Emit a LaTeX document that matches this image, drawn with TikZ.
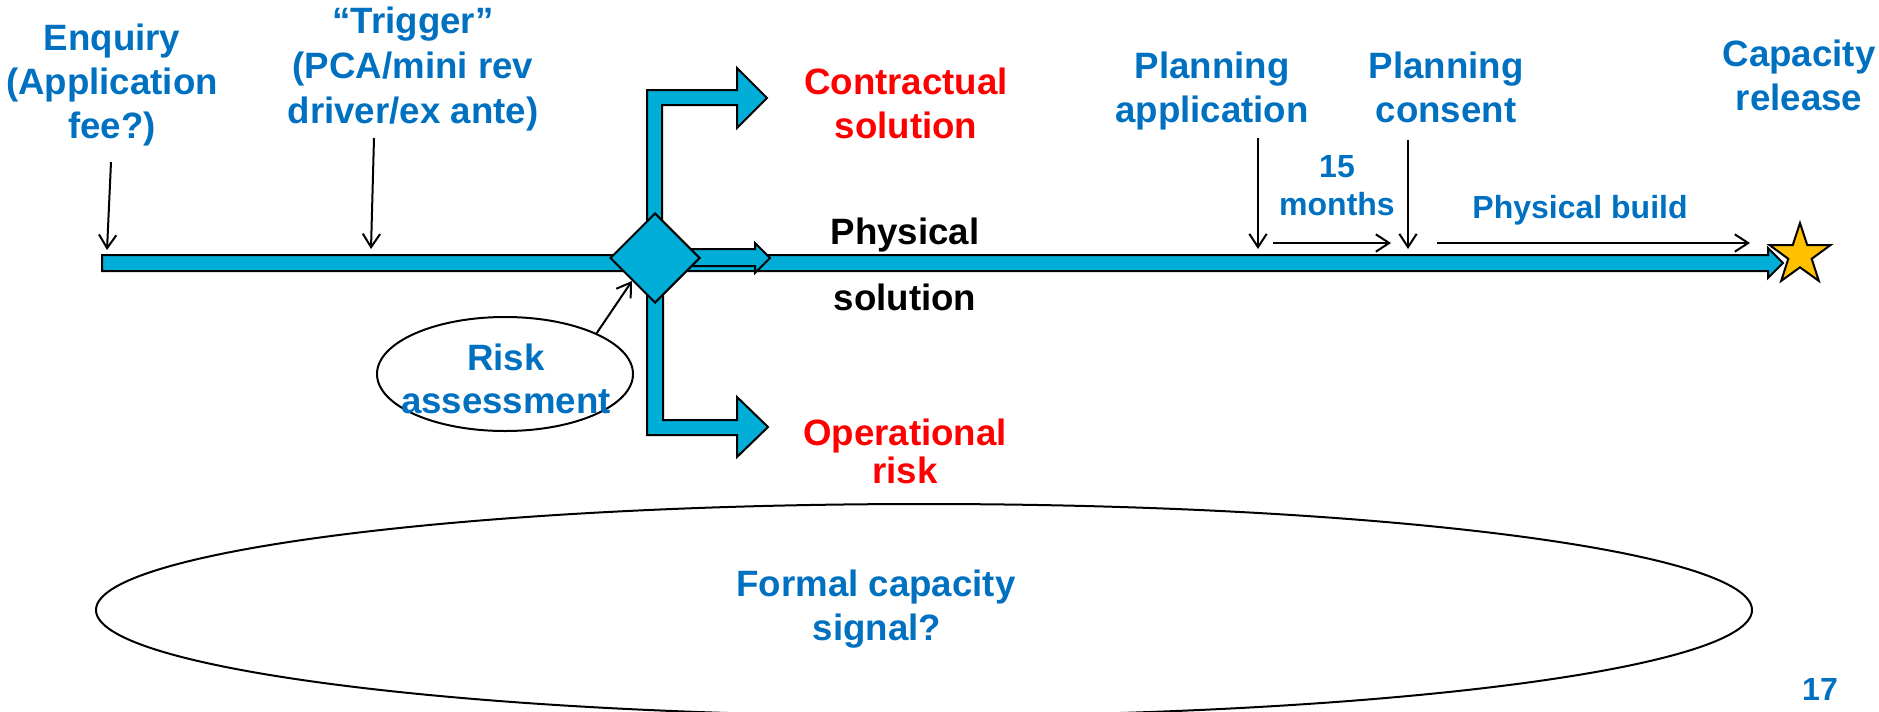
\documentclass[tikz,border=0pt]{standalone}
\usepackage{fontspec}
\setmainfont{Liberation Sans}
\usetikzlibrary{shapes.geometric, arrows.meta}
\definecolor{txtblue}{RGB}{0,112,192}
\definecolor{txtred}{RGB}{255,0,0}
\definecolor{barfill}{RGB}{0,174,216}
\definecolor{starfill}{RGB}{255,192,0}

\begin{document}
\begin{tikzpicture}[x=0.75pt, y=-0.75pt,
  big/.style={font=\fontsize{27.5}{33}\selectfont\bfseries, inner sep=0pt, anchor=base},
  small/.style={font=\fontsize{24}{28}\selectfont\bfseries, inner sep=0pt, anchor=base},
  bluetxt/.style={text=txtblue},
  redtxt/.style={text=txtred},
  blacktxt/.style={text=black},
  band/.style={draw=black, line width=1.5pt, fill=barfill, line join=miter},
  pointer/.style={draw=black, line width=1.5pt, -{Straight Barb[length=10pt, width=13pt]}},
  outline/.style={draw=black, line width=1.5pt}
]
\path[use as bounding box] (0,0) rectangle (1879,711);

% timeline band with its arrow head
\path[band] (102,255) -- (1768,255) -- (1768,248) -- (1783,263) -- (1768,278)
  -- (1768,271) -- (102,271) -- cycle;

% upper branch towards the contractual solution
\path[band] (647,258) -- (647,90) -- (737,90) -- (737,68) -- (767,98) -- (737,128)
  -- (737,105) -- (662,105) -- (662,258) -- cycle;

% lower branch towards operational risk
\path[band] (647,258) -- (647,435) -- (737,435) -- (737,457) -- (768,427) -- (737,397)
  -- (737,420) -- (663,420) -- (663,258) -- cycle;

% short straight-on arrow
\path[band] (655,249) -- (755,249) -- (755,243) -- (770,258) -- (755,273)
  -- (755,266) -- (655,266) -- cycle;

% decision point
\node[diamond, band, aspect=1, minimum width=67.5pt, minimum height=67.5pt, inner sep=0pt]
  (dia) at (655,258) {};

% capacity release marker
\node[star, star points=5, star point ratio=2.6, minimum size=48pt, inner sep=0pt,
  draw=black, line width=1.5pt, fill=starfill] (relstar) at (1800,255) {};

% ellipses
\node[ellipse, outline, minimum width=192pt, minimum height=85.5pt, inner sep=0pt]
  (risk) at (505,374) {};
\node[ellipse, outline, minimum width=1242pt, minimum height=159pt, inner sep=0pt]
  (formal) at (924,610) {};

% labels
\node[big, bluetxt] (enq1) at (112,50) {Enquiry};
\node[big, bluetxt] (enq2) at (112,94) {(Application};
\node[big, bluetxt] (enq3) at (112,138) {fee?)};

\node[big, bluetxt] (trg1) at (413,33) {“Trigger”};
\node[big, bluetxt] (trg2) at (413,78) {(PCA/mini rev};
\node[big, bluetxt] (trg3) at (413,123) {driver/ex ante)};

\node[big, redtxt] (con1) at (906,94) {Contractual};
\node[big, redtxt] (con2) at (906,138) {solution};

\node[big, bluetxt] (pa1) at (1212,78) {Planning};
\node[big, bluetxt] (pa2) at (1212,122) {application};

\node[big, bluetxt] (pc1) at (1446,78) {Planning};
\node[big, bluetxt] (pc2) at (1446,122) {consent};

\node[big, bluetxt] (cr1) at (1799,66) {Capacity};
\node[big, bluetxt] (cr2) at (1799,110) {release};

\node[small, bluetxt] (mo1) at (1337,177) {15};
\node[small, bluetxt] (mo2) at (1337,215) {months};
\node[small, bluetxt] (pb) at (1580,218) {Physical build};

\node[big, blacktxt] (ph1) at (905,244) {Physical};
\node[big, blacktxt] (ph2) at (905,310) {solution};

\node[big, bluetxt] (rk1) at (506,370) {Risk};
\node[big, bluetxt] (rk2) at (506,413) {assessment};

\node[big, redtxt] (op1) at (905,445) {Operational};
\node[big, redtxt] (op2) at (905,483) {risk};

\node[big, bluetxt] (fc1) at (876,596) {Formal capacity};
\node[big, bluetxt] (fc2) at (877,640) {signal?};

\node[small, bluetxt] (pg) at (1820,700) {17};

% pointer end points
\coordinate (enqfrom) at (111,162);  \coordinate (enqto) at (107,250);
\coordinate (trgfrom) at (374,138);  \coordinate (trgto) at (371,249);
\coordinate (pafrom) at (1258,138);  \coordinate (pato) at (1258,249);
\coordinate (pcfrom) at (1408,140);  \coordinate (pcto) at (1408,249);
\coordinate (mofrom) at (1273,243);  \coordinate (moto) at (1391,243);
\coordinate (pbfrom) at (1437,243);  \coordinate (pbto) at (1750,243);

\draw[pointer] (enqfrom) -- (enqto);
\draw[pointer] (trgfrom) -- (trgto);
\draw[pointer] (pafrom) -- (pato);
\draw[pointer] (pcfrom) -- (pcto);
\draw[pointer] (mofrom) -- (moto);
\draw[pointer] (pbfrom) -- (pbto);
\draw[pointer] (risk.24) -- (dia.south west);
\end{tikzpicture}
\end{document}
